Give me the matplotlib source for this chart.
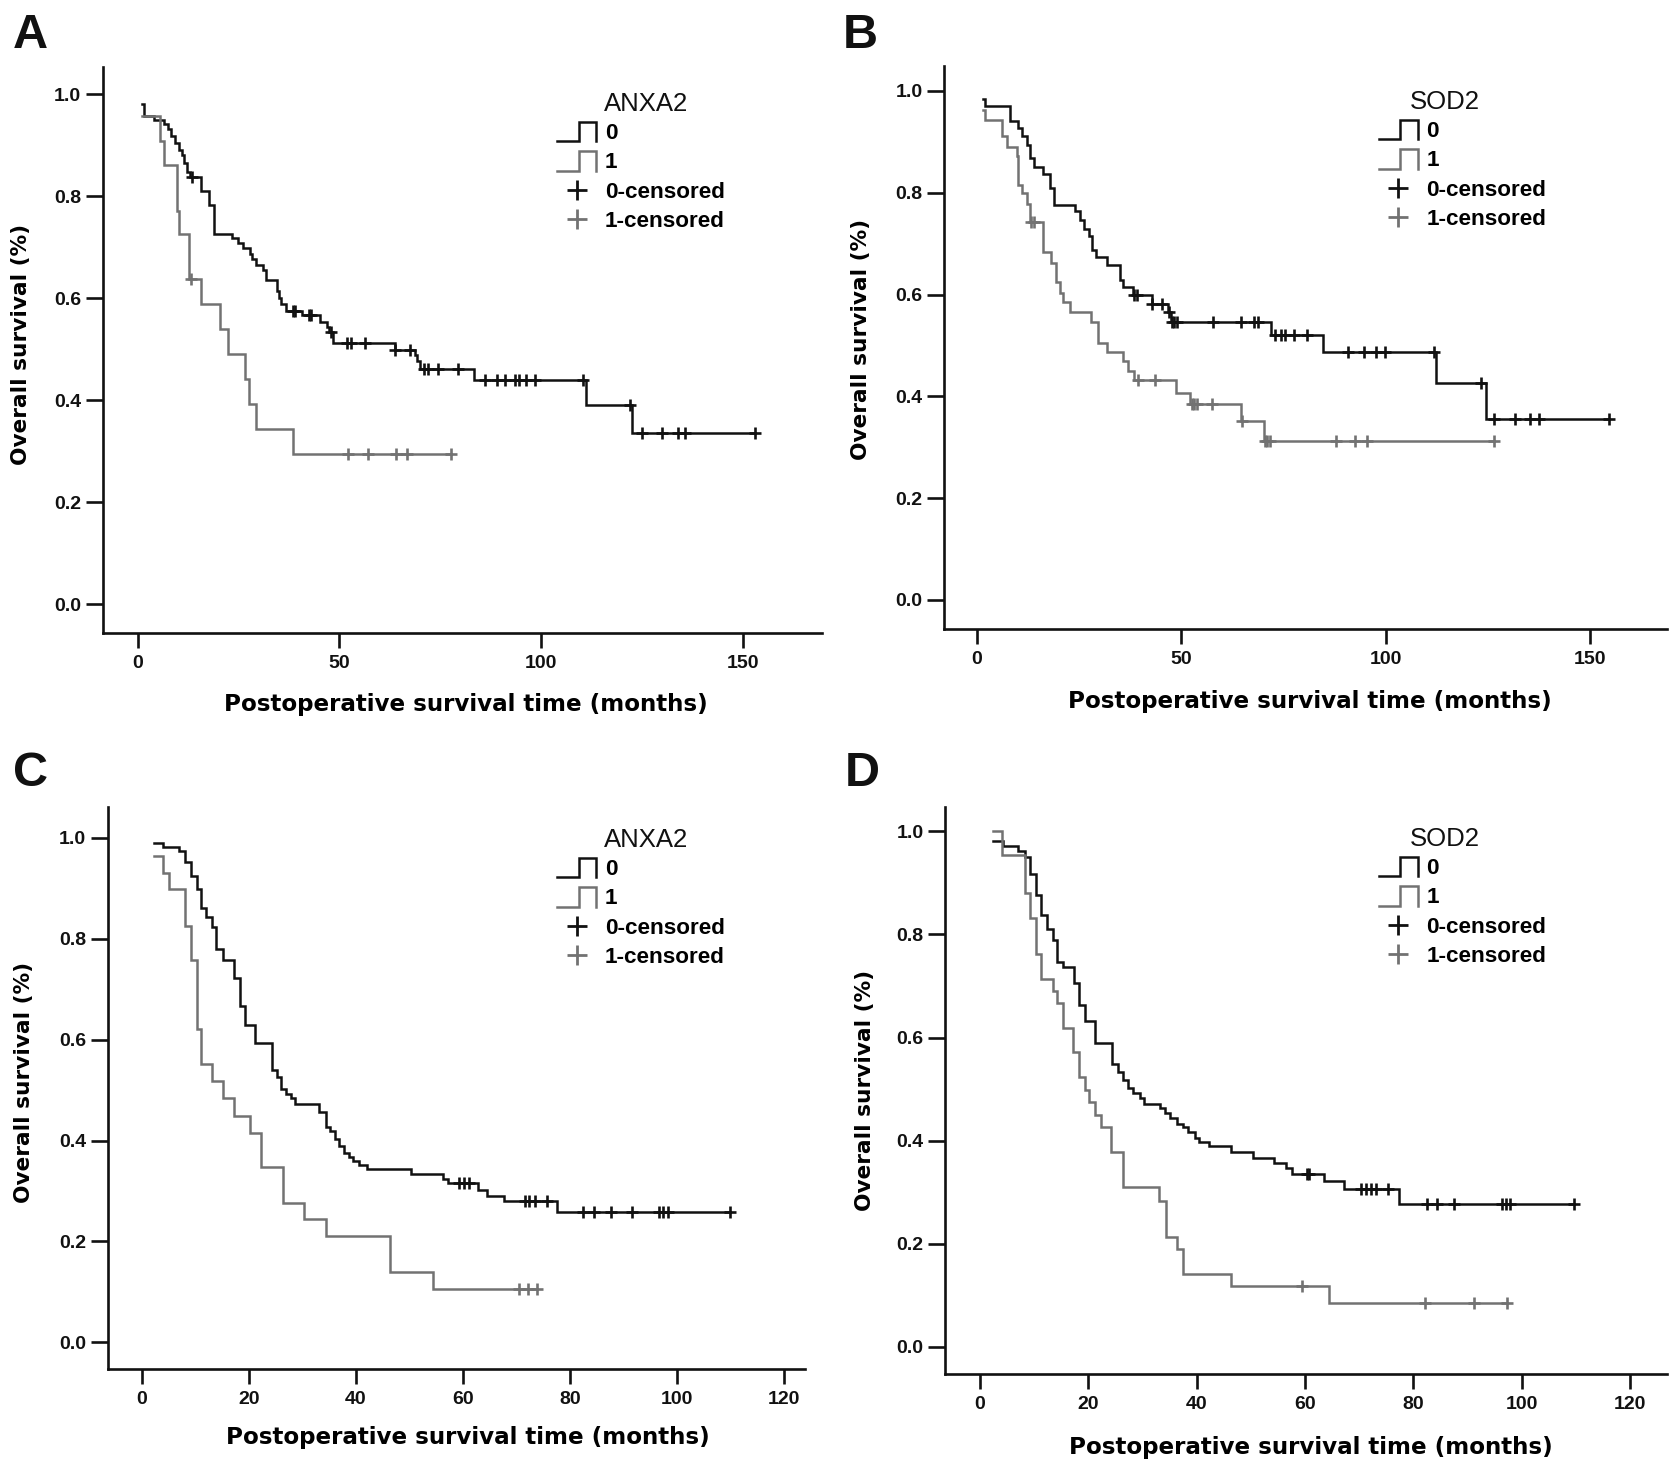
import numpy as np
import matplotlib
matplotlib.use('Agg')
import matplotlib.pyplot as plt
from matplotlib.lines import Line2D
from matplotlib.legend_handler import HandlerBase

plt.rcParams['font.family'] = ['Liberation Sans', 'DejaVu Sans']

# ---- Kaplan-Meier data (months, survival after each step) ----
# A: ANXA2, cohort 1
a0_time = [1.0, 1.6, 4.0, 6.5, 7.5, 8.3, 9.2, 10.1, 10.9, 11.5, 12.2, 12.9, 15.7, 17.6, 18.8,
           23.3, 24.9, 26.1, 27.8, 28.3, 29.4, 31.1, 31.7, 34.5, 35.1, 35.6, 36.7, 40.7,
           45.2, 46.9, 47.4, 48.5, 63.7, 68.8, 69.3, 69.9, 83.4, 111.1, 122.7]
a0_surv = [0.980, 0.958, 0.950, 0.942, 0.932, 0.918, 0.904, 0.890, 0.880, 0.866, 0.848, 0.838,
           0.810, 0.782, 0.726, 0.719, 0.708, 0.698, 0.687, 0.677, 0.666, 0.656, 0.635,
           0.614, 0.600, 0.589, 0.575, 0.568, 0.554, 0.544, 0.533, 0.512, 0.498, 0.488,
           0.477, 0.462, 0.439, 0.390, 0.335]
a0_cens = [13.5, 38.4, 39.0, 42.4, 42.9, 48.0, 51.9, 53.0, 56.4, 63.9, 67.6, 71.0, 72.1,
           74.4, 79.4, 86.2, 89.0, 91.2, 93.5, 94.6, 96.3, 98.5, 110.3, 122.1, 125.0,
           130.0, 133.9, 135.6, 153.0]
a1_time = [1.0, 5.6, 6.4, 9.8, 10.3, 12.6, 15.7, 20.4, 22.5, 26.6, 27.5, 29.4, 38.4]
a1_surv = [0.958, 0.908, 0.862, 0.771, 0.726, 0.638, 0.588, 0.539, 0.490, 0.441, 0.392,
           0.344, 0.295]
a1_cens = [13.1, 52.1, 57.0, 64.0, 66.7, 77.8]

# B: SOD2, cohort 1
b0_time = [1.5, 2.0, 8.0, 9.9, 11.0, 12.1, 13.0, 14.0, 16.1, 17.8, 18.9, 23.9, 25.1, 26.2,
           27.3, 28.2, 29.0, 31.8, 34.9, 35.7, 38.2, 42.8, 46.6, 47.5, 72.0, 84.6, 112.4,
           124.5]
b0_surv = [0.985, 0.970, 0.940, 0.928, 0.911, 0.893, 0.869, 0.851, 0.837, 0.809, 0.776,
           0.764, 0.746, 0.729, 0.715, 0.687, 0.673, 0.659, 0.628, 0.614, 0.600, 0.582,
           0.565, 0.546, 0.521, 0.488, 0.427, 0.355]
b0_cens = [38.5, 39.1, 42.9, 45.3, 46.9, 47.6, 48.2, 48.8, 57.6, 64.6, 67.8, 68.7, 72.8,
           74.4, 75.3, 77.6, 80.7, 90.8, 94.7, 97.5, 99.8, 111.8, 123.4, 126.4, 131.6,
           135.4, 137.4, 154.5]
b1_time = [1.5, 2.0, 6.0, 7.3, 9.7, 9.9, 11.0, 12.1, 12.9, 16.1, 18.1, 19.2, 20.3, 21.1,
           22.8, 27.9, 29.6, 31.8, 35.7, 36.9, 38.5, 48.7, 52.0, 64.6, 70.2]
b1_surv = [0.963, 0.942, 0.911, 0.890, 0.872, 0.816, 0.799, 0.778, 0.743, 0.683, 0.662,
           0.624, 0.603, 0.586, 0.565, 0.547, 0.505, 0.488, 0.470, 0.449, 0.432, 0.407,
           0.385, 0.352, 0.313]
b1_cens = [13.3, 13.8, 39.4, 43.6, 52.6, 53.1, 53.7, 57.4, 64.9, 70.5, 70.9, 71.7, 87.8,
           92.5, 95.3, 126.4]

# C: ANXA2, cohort 2
c0_time = [2.2, 4.0, 7.0, 8.1, 9.2, 10.2, 11.1, 11.9, 13.1, 13.9, 15.2, 17.2, 18.3, 19.3,
           21.1, 24.3, 25.2, 25.9, 26.9, 27.8, 28.6, 33.1, 34.3, 35.1, 36.0, 36.9, 37.7,
           38.6, 39.4, 40.5, 42.0, 50.3, 56.3, 57.2, 62.8, 64.5, 67.6, 77.5]
c0_surv = [0.990, 0.982, 0.974, 0.953, 0.925, 0.899, 0.861, 0.844, 0.823, 0.780, 0.759,
           0.723, 0.666, 0.629, 0.594, 0.539, 0.527, 0.502, 0.492, 0.485, 0.473, 0.456,
           0.427, 0.418, 0.404, 0.389, 0.375, 0.368, 0.359, 0.351, 0.344, 0.333, 0.323,
           0.315, 0.301, 0.291, 0.280, 0.258]
c0_cens = [59.3, 60.2, 61.1, 71.5, 72.3, 73.4, 75.6, 82.5, 84.4, 87.6, 91.5, 96.7, 97.4,
           98.3, 109.8]
c1_time = [2.2, 4.0, 5.1, 8.1, 9.2, 10.2, 11.1, 13.1, 15.2, 17.2, 20.2, 22.3, 26.3, 30.2,
           34.3, 46.4, 54.3]
c1_surv = [0.965, 0.930, 0.899, 0.826, 0.759, 0.622, 0.551, 0.518, 0.485, 0.449, 0.414,
           0.347, 0.277, 0.245, 0.210, 0.139, 0.106]
c1_cens = [70.4, 72.1, 73.9]

# D: SOD2, cohort 2
d0_time = [2.4, 4.3, 7.0, 8.3, 9.2, 10.3, 11.3, 12.3, 13.4, 14.2, 15.3, 17.4, 18.2, 19.3,
           21.3, 24.4, 25.5, 26.4, 27.4, 28.2, 29.5, 30.3, 33.3, 34.2, 35.0, 36.3, 37.5,
           38.4, 39.7, 40.5, 42.2, 46.4, 50.3, 54.3, 56.4, 57.5, 63.4, 67.2, 77.4]
d0_surv = [0.981, 0.971, 0.962, 0.951, 0.918, 0.876, 0.838, 0.810, 0.789, 0.747, 0.737,
           0.705, 0.663, 0.632, 0.590, 0.548, 0.534, 0.517, 0.503, 0.492, 0.482, 0.471,
           0.464, 0.454, 0.443, 0.433, 0.426, 0.416, 0.405, 0.398, 0.390, 0.377, 0.367,
           0.356, 0.346, 0.335, 0.321, 0.307, 0.276]
d0_cens = [60.3, 60.8, 70.4, 71.3, 72.1, 73.0, 75.3, 82.5, 84.3, 87.4, 96.3, 97.0, 97.9,
           109.6]
d1_time = [2.4, 4.0, 8.3, 9.2, 10.3, 11.3, 13.4, 14.2, 15.3, 17.2, 18.2, 19.3, 20.2, 21.3,
           22.3, 24.2, 26.4, 33.1, 34.3, 36.3, 37.4, 46.4, 64.5]
d1_surv = [1.000, 0.955, 0.881, 0.832, 0.763, 0.714, 0.690, 0.667, 0.618, 0.571, 0.524,
           0.499, 0.475, 0.450, 0.427, 0.378, 0.309, 0.283, 0.213, 0.189, 0.141, 0.117,
           0.085]
d1_cens = [59.4, 82.1, 91.1, 97.2]

y_ticks = [0.0, 0.2, 0.4, 0.6, 0.8, 1.0]
x_ticks_long = [0, 50, 100, 150]
x_ticks_short = [0, 20, 40, 60, 80, 100, 120]

BLACK = '#111111'
GRAY = '#727272'
W, H = 1677, 1474

fig = plt.figure(figsize=(W / 100, H / 100), dpi=100)


class StepHandler(HandlerBase):
    # legend key drawn as a little step, like SPSS does
    def create_artists(self, legend, orig_handle, xdescent, ydescent, width, height,
                       fontsize, trans):
        x0 = -xdescent
        y0 = -ydescent - 0.15 * height
        y1 = y0 + 1.25 * height
        xs = [x0, x0 + 0.55 * width, x0 + 0.55 * width, x0 + width, x0 + width]
        ys = [y0, y0, y1, y1, y0]
        ln = Line2D(xs, ys, color=orig_handle.get_color(),
                    lw=orig_handle.get_linewidth(), solid_joinstyle='miter')
        ln.set_transform(trans)
        return [ln]


def km(ax, t, s, cens, color):
    t = np.asarray(t)
    s = np.asarray(s)
    cens = np.asarray(cens)
    xs = np.r_[t, cens[-1]]
    ys = np.r_[s, s[-1]]
    ax.step(xs, ys, where='post', color=color, lw=1.8, solid_joinstyle='miter')
    idx = np.searchsorted(t, cens, side='right') - 1
    ax.plot(cens, s[idx], linestyle='none', marker='+', color=color,
            markersize=9, markeredgewidth=1.9)


def panel(rect, xlim, ylim, xticks, curves, gene, leg_xy, title_xy, letter, letter_xy,
          ylab_xy, xlab_xy):
    l, t, r, b = rect
    ax = fig.add_axes([l / W, 1 - b / H, (r - l) / W, (b - t) / H])
    (t0, s0, c0), (t1, s1, c1) = curves
    km(ax, t0, s0, c0, BLACK)
    km(ax, t1, s1, c1, GRAY)

    ax.set_xlim(*xlim)
    ax.set_ylim(*ylim)
    ax.set_xticks(xticks)
    ax.set_yticks(y_ticks)
    ax.set_yticklabels(['%.1f' % v for v in y_ticks])
    for sp in ['top', 'right']:
        ax.spines[sp].set_visible(False)
    for sp in ['left', 'bottom']:
        ax.spines[sp].set_linewidth(1.9)
        ax.spines[sp].set_color(BLACK)
    ax.tick_params(axis='y', length=12, width=1.9, pad=3.5, labelsize=14, colors=BLACK)
    ax.tick_params(axis='x', length=11, width=1.9, pad=5, labelsize=14, colors=BLACK)
    for lab in ax.get_xticklabels() + ax.get_yticklabels():
        lab.set_fontweight('bold')

    ax.set_ylabel('Overall survival (%)', fontsize=15.6, fontweight='bold',
                  family=['DejaVu Sans'], va='center')
    ax.yaxis.set_label_coords(*ylab_xy)
    ax.set_xlabel('Postoperative survival time (months)', fontsize=16.6, fontweight='bold',
                  family=['DejaVu Sans'], va='center')
    ax.xaxis.set_label_coords(*xlab_xy)

    h0 = Line2D([], [], color=BLACK, lw=1.8)
    h1 = Line2D([], [], color=GRAY, lw=1.8)
    h2 = Line2D([], [], color=BLACK, lw=0, marker='+', markersize=14, markeredgewidth=2.0)
    h3 = Line2D([], [], color=GRAY, lw=0, marker='+', markersize=14, markeredgewidth=2.0)
    ax.legend([h0, h1, h2, h3], ['0', '1', '0-censored', '1-censored'],
              handler_map={h0: StepHandler(), h1: StepHandler()},
              loc='upper left', bbox_to_anchor=(leg_xy[0] / W, 1 - leg_xy[1] / H),
              bbox_transform=fig.transFigure, frameon=False, borderpad=0,
              borderaxespad=0, handlelength=1.75, handletextpad=0.38,
              labelspacing=0.37, prop={'size': 16.2, 'weight': 'bold'})
    fig.text(title_xy[0] / W, 1 - title_xy[1] / H, gene, fontsize=18.5,
             ha='left', va='center', color=BLACK)
    fig.text(letter_xy[0] / W, 1 - letter_xy[1] / H, letter, fontsize=35,
             fontweight='bold', ha='left', va='baseline', color=BLACK)
    return ax


panel((102.7, 66.7, 822, 632.7), (-8.7, 169.7), (-0.056, 1.054), x_ticks_long,
      [(a0_time, a0_surv, a0_cens), (a1_time, a1_surv, a1_cens)], 'ANXA2',
      (557, 123), (604, 104), 'A', (13, 48), (-0.114, 0.51), (0.505, -0.126))
panel((944, 66, 1667, 629), (-8.1, 168.8), (-0.057, 1.049), x_ticks_long,
      [(b0_time, b0_surv, b0_cens), (b1_time, b1_surv, b1_cens)], 'SOD2',
      (1378.6, 121), (1410, 102), 'B', (843, 48), (-0.115, 0.514), (0.506, -0.128))
panel((107.7, 806.7, 805, 1369), (-6.4, 123.9), (-0.053, 1.062), x_ticks_short,
      [(c0_time, c0_surv, c0_cens), (c1_time, c1_surv, c1_cens)], 'ANXA2',
      (557, 859), (604, 840), 'C', (13, 786), (-0.12, 0.51), (0.517, -0.122))
panel((945, 806.7, 1667, 1374), (-6.46, 126.8), (-0.053, 1.048), x_ticks_short,
      [(d0_time, d0_surv, d0_cens), (d1_time, d1_surv, d1_cens)], 'SOD2',
      (1378.6, 858), (1410, 839), 'D', (845, 786), (-0.111, 0.50), (0.507, -0.13))

fig.savefig('out.png', dpi=100, facecolor='white')
